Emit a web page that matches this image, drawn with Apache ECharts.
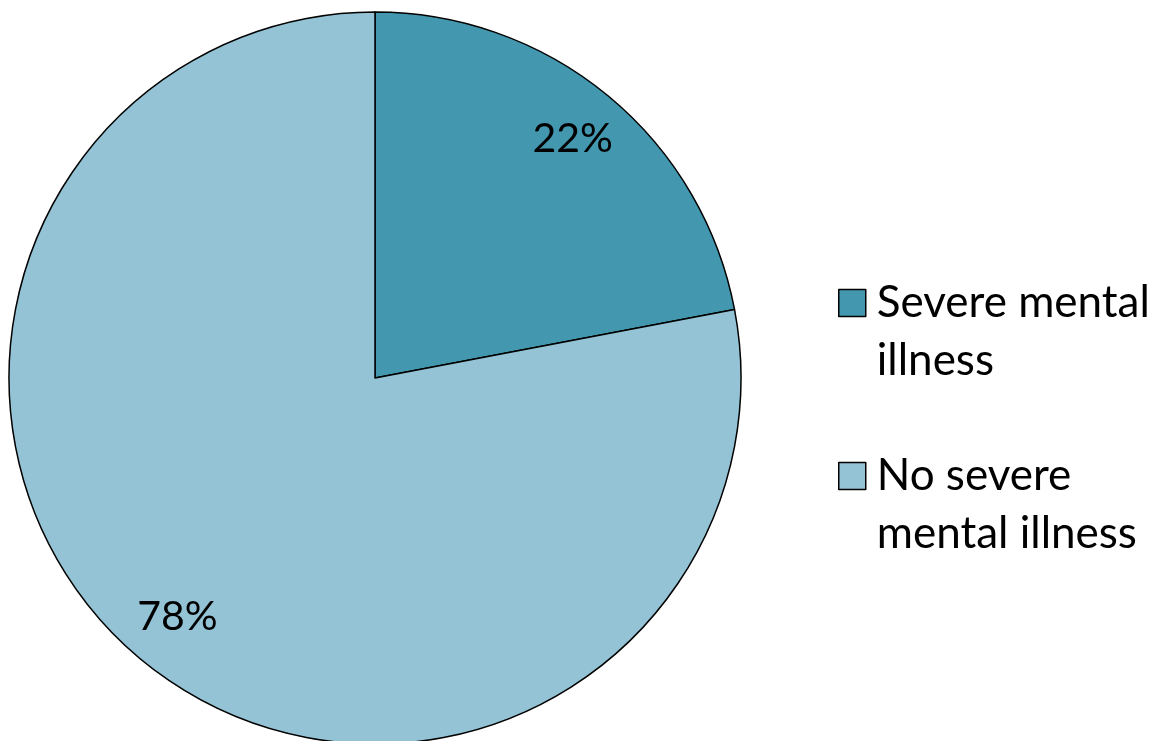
<!DOCTYPE html>
<html><head><meta charset="utf-8">
<script src="https://cdn.jsdelivr.net/npm/echarts@6/dist/echarts.min.js"></script>
<style>html,body{margin:0;padding:0;background:#fff}#c{width:1164px;height:741px}</style>
</head><body><div id="c"></div>
<script>
const categories = ['Severe mental illness', 'No severe mental illness'];
const legendLines = [['Severe mental', 'illness'], ['No severe', 'mental illness']];
const values = [22, 78];
const colors = ['#4398B0', '#93C3D5'];

const FONT = 'Lato';
const chart = echarts.init(document.getElementById('c'), null, {renderer: 'canvas'});
const data = categories.map((n, i) => ({name: n, value: values[i], itemStyle: {color: colors[i]}}));
chart.setOption({
  animation: false,
  backgroundColor: '#fff',
  legend: {
    orient: 'vertical',
    left: 838,
    top: 216,
    padding: 0,
    itemWidth: 27,
    itemHeight: 27,
    itemGap: -1,
    icon: 'rect',
    itemStyle: {borderColor: '#000', borderWidth: 1.5},
    formatter: name => '{s|}\n' + legendLines[categories.indexOf(name)].map(l => '{s|}{t|' + l + '}').join('\n'),
    textStyle: {
      fontFamily: FONT, fontSize: 44, lineHeight: 58, color: '#000',
      rich: {
        s: {width: 6, height: 58, lineHeight: 58},
        t: {fontFamily: FONT, fontSize: 44, lineHeight: 58, color: '#000'}
      }
    },
    data: categories
  },
  series: [
    {
      type: 'pie',
      center: [375, 378],
      radius: [0, 366],
      startAngle: 90,
      clockwise: true,
      silent: true,
      label: {show: false},
      labelLine: {show: false},
      itemStyle: {borderColor: '#000', borderWidth: 1.5},
      data: data
    },
    {
      type: 'pie',
      center: [375, 378],
      radius: [248, 366],
      startAngle: 90,
      clockwise: true,
      silent: true,
      itemStyle: {color: 'rgba(0,0,0,0)', borderWidth: 0},
      label: {show: true, position: 'inside', formatter: p => p.value + '%', fontFamily: FONT, fontSize: 41, color: '#000'},
      labelLine: {show: false},
      data: categories.map((n, i) => ({name: n, value: values[i]}))
    }
  ]
});
</script></body></html>
